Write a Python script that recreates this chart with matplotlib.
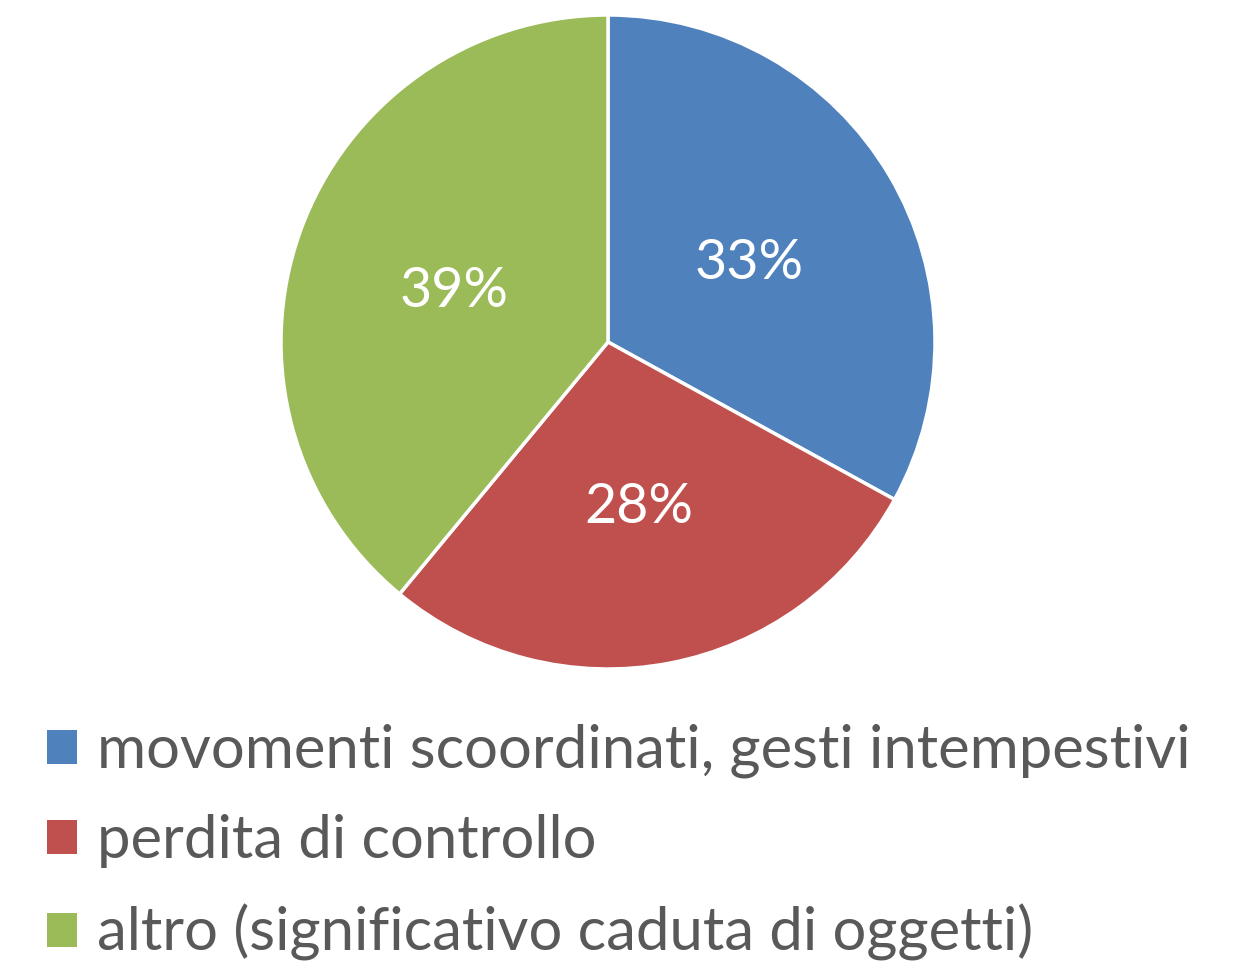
import matplotlib
matplotlib.use('Agg')
import matplotlib.pyplot as plt

plt.rcParams['font.family'] = ['Lato', 'DejaVu Sans']

categories = ['movomenti scoordinati, gesti intempestivi',
              'perdita di controllo',
              'altro (significativo caduta di oggetti)']
values = [33, 28, 39]
colors = ['#4F81BD', '#C0504D', '#9BBB59']

W, H = 1247, 965
fig = plt.figure(figsize=(W / 100, H / 100), dpi=100)

# pie: center (608, 342) px, radius 327 px
cx, cy, r = 608, 342, 327
ax = fig.add_axes([(cx - r) / W, (H - cy - r) / H, 2 * r / W, 2 * r / H])
wedges, texts, autotexts = ax.pie(
    values, colors=colors, startangle=90, counterclock=False,
    autopct='%.0f%%', pctdistance=0.5, radius=1,
    wedgeprops=dict(edgecolor='white', linewidth=2.5, clip_on=False),
    textprops=dict(color='white', fontsize=40))
for t in autotexts:
    x, y = t.get_position()
    t.set_position((x, y - 0.015))
ax.set_xlim(-1, 1)
ax.set_ylim(-1, 1)
ax.set_aspect('equal')
ax.axis('off')

leg = fig.legend(wedges, categories, loc='upper left',
                 bbox_to_anchor=(17 / W, 1 - 694 / H),
                 frameon=False, fontsize=43, handlelength=0.5, handleheight=0.5,
                 handletextpad=0.34, labelspacing=0.6, borderpad=0)
for t in leg.get_texts():
    t.set_color('#595959')
for h in leg.legend_handles:
    h.set_edgecolor('none')

fig.savefig('out.png', dpi=100)
